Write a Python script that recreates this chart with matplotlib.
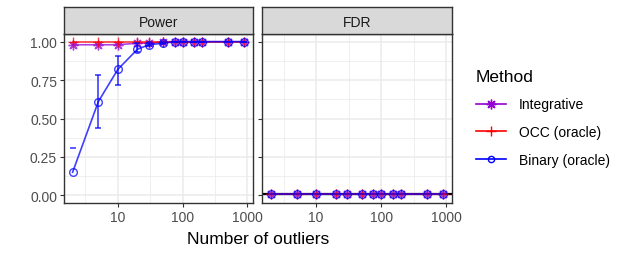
import matplotlib
matplotlib.use("Agg")
import matplotlib.pyplot as plt
from matplotlib.lines import Line2D
import numpy as np

plt.rcParams['font.family'] = ['Liberation Sans', 'DejaVu Sans']

# data
n_out = [2, 5, 10, 20, 30, 50, 75, 100, 150, 200, 500, 900]
methods = ["Integrative", "OCC (oracle)", "Binary (oracle)"]
colors = ["#9400D3", "#FF0000", "#0000FF"]
markers = [(8, 2, 0), "+", "o"]

power_int = [0.98, 0.98, 0.98, 0.99, 0.99, 1.0, 1.0, 1.0, 1.0, 1.0, 1.0, 1.0]
power_occ = [1.0, 1.0, 1.0, 1.0, 1.0, 1.0, 1.0, 1.0, 1.0, 1.0, 1.0, 1.0]
power_bin = [0.15, 0.61, 0.82, 0.95, 0.98, 0.99, 1.0, 1.0, 1.0, 1.0, 1.0, 1.0]
power_bin_lo = [np.nan, 0.44, 0.72, 0.93, 0.97, 0.985, 1.0, 1.0, 1.0, 1.0, 1.0, 1.0]
power_bin_hi = [0.31, 0.78, 0.91, 0.99, 0.99, 0.995, 1.0, 1.0, 1.0, 1.0, 1.0, 1.0]

fdr_int = [0.01] * 12
fdr_occ = [0.01] * 12
fdr_bin = [0.008] * 12
fdr_level = 0.01

W, H = 623, 255
fig = plt.figure(figsize=(W / 100, H / 100), dpi=100)

def box(l, r, t, b):
    return [l / W, 1 - b / H, (r - l) / W, (b - t) / H]

panels = [
    ("Power", box(64, 253, 35, 204), [power_int, power_occ, power_bin]),
    ("FDR", box(262, 452, 35, 204), [fdr_int, fdr_occ, fdr_bin]),
]

grid_c = "#EBEBEB"
for k, (title, pos, series) in enumerate(panels):
    ax = fig.add_axes(pos)
    ax.set_xscale("log")
    lo, hi = np.log10(n_out[0]), np.log10(n_out[-1])
    ex = 0.05 * (hi - lo)
    ax.set_xlim(10 ** (lo - ex), 10 ** (hi + ex))
    ax.set_ylim(-0.05, 1.05)
    ax.set_xticks([10, 100, 1000])
    ax.set_xticklabels(["10", "100", "1000"])
    ax.set_xticks([10 ** 0.5, 10 ** 1.5, 10 ** 2.5], minor=True)
    ax.xaxis.set_minor_formatter(plt.NullFormatter())
    ax.set_yticks([0, 0.25, 0.5, 0.75, 1.0])
    ax.set_yticks([0.125, 0.375, 0.625, 0.875], minor=True)
    if k == 0:
        ax.set_yticklabels(["0.00", "0.25", "0.50", "0.75", "1.00"])
    else:
        ax.set_yticklabels([])
    ax.grid(True, which="major", color=grid_c, lw=1.1)
    ax.grid(True, which="minor", color=grid_c, lw=0.55)
    ax.set_axisbelow(True)
    ax.tick_params(which="major", length=3, width=0.8, color="#333333",
                   labelsize=10, labelcolor="#4D4D4D", pad=2)
    ax.tick_params(which="minor", length=0)
    for s in ax.spines.values():
        s.set_color("#333333")
        s.set_linewidth(1.0)

    if title == "FDR":
        ax.axhline(fdr_level, color="black", lw=1.6, zorder=2)

    for m, (vals, c, mk) in enumerate(zip(series, colors, markers)):
        ms = 5.5 if mk == "o" else 7
        ax.plot(n_out, vals, color=c, lw=1.2, alpha=0.75, zorder=3 + m)
        ax.plot(n_out, vals, ls="none", marker=mk, ms=ms, mfc="none",
                mec=c, mew=1.0, alpha=0.75, zorder=3 + m)

    if title == "Power":
        x = np.array(n_out)
        lo_v = np.array(power_bin_lo)
        hi_v = np.array(power_bin_hi)
        mid = np.array(power_bin)
        ok = ~np.isnan(lo_v)
        ax.errorbar(x[ok], mid[ok], yerr=[mid[ok] - lo_v[ok], hi_v[ok] - mid[ok]],
                    fmt="none", ecolor="#0000FF", elinewidth=1.2, capsize=2.5,
                    capthick=1.2, alpha=0.75, zorder=6)
        ax.plot(x[~ok], hi_v[~ok], ls="none", marker="_", ms=5, mew=1.2,
                color="#0000FF", alpha=0.75, zorder=6)

    # strip
    l, b, w, h = pos
    sax = fig.add_axes([l, 1 - 35 / H, w, 27 / H])
    sax.set_xticks([])
    sax.set_yticks([])
    sax.set_facecolor("#D9D9D9")
    for s in sax.spines.values():
        s.set_color("#333333")
        s.set_linewidth(1.0)
    sax.text(0.5, 0.45, title, ha="center", va="center", fontsize=10,
             color="#1A1A1A", transform=sax.transAxes)

fig.text(258 / W, 1 - 240 / H, "Number of outliers", ha="center", va="center",
         fontsize=12.5, color="black")

handles = []
for lab, c, mk in zip(methods, colors, markers):
    ms = 4.5 if mk == "o" else 7
    handles.append(Line2D([0], [0], color=c, lw=1.2, marker=mk, ms=ms,
                          mfc="none", mec=c, mew=1.0, label=lab))
leg = fig.legend(handles=handles, title="Method", loc="upper left",
                 bbox_to_anchor=(470 / W, 1 - 64 / H), frameon=False,
                 fontsize=10, title_fontsize=12.5, handlelength=2.2,
                 handletextpad=0.9, labelspacing=1.0, borderaxespad=0)
leg._legend_box.align = "left"

fig.savefig("out.png", dpi=100)
